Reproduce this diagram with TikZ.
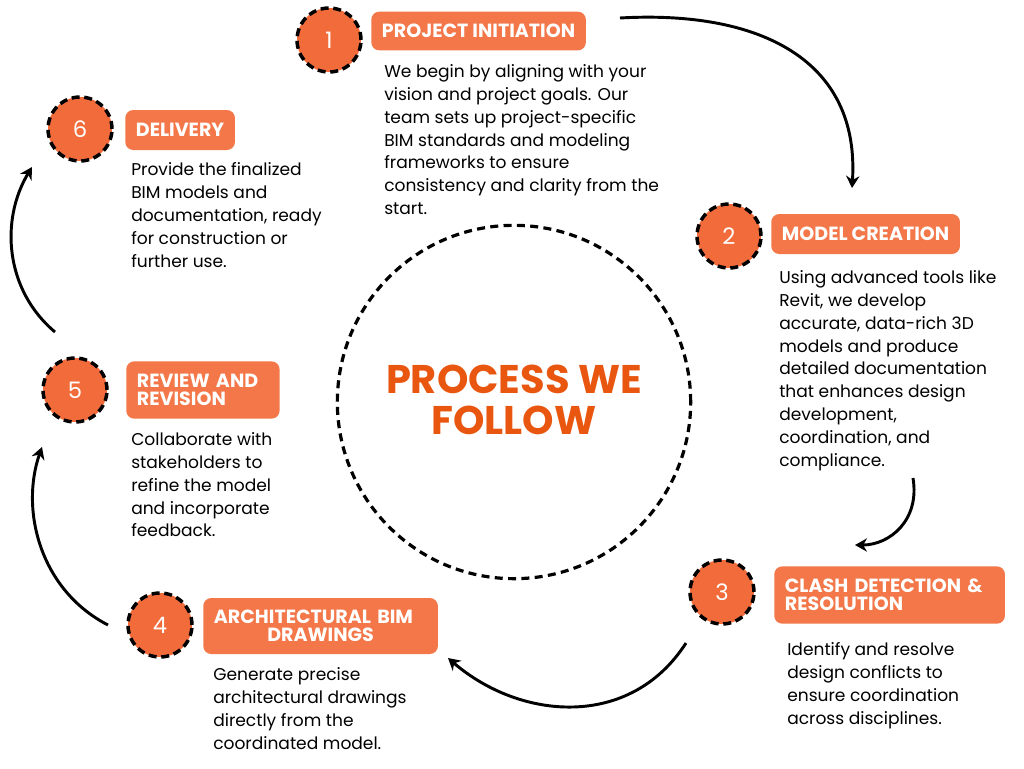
\documentclass[tikz,border=0pt]{standalone}
\usepackage{fontspec}
\setmainfont{Poppins}
\usetikzlibrary{arrows.meta}
\definecolor{org}{HTML}{F37748}
\definecolor{orgc}{HTML}{F26B3A}
\definecolor{ttl}{HTML}{E8560F}
\begin{document}
\begin{tikzpicture}[x=0.75pt,y=-0.75pt,
 num/.style={circle,fill=orgc,draw=black,line width=2.6pt,dash pattern=on 6pt off 3.5pt,minimum size=48pt,inner sep=0pt,text=white,font=\fontsize{17}{17}\selectfont},
 lab/.style={fill=org,rounded corners=6pt,text=white,font=\bfseries\fontsize{14.3}{13.5}\selectfont,align=left,inner xsep=8pt,inner ysep=6pt,anchor=west},
 body/.style={anchor=north west,align=left,font=\fontsize{12.8}{17.2}\selectfont,inner sep=0pt},
 arr/.style={line width=2.2pt,-{Stealth[length=9pt,width=10pt]}}]
\useasboundingbox (0,0) rectangle (1024,768);
\node[circle,draw=black,line width=2.4pt,dash pattern=on 6pt off 4pt,minimum size=265pt] (c) at (514,402) {};
\node[text=ttl,font=\bfseries\fontsize{30}{31}\selectfont,align=center] (ct) at (514,400) {PROCESS WE\\FOLLOW};
% 1
\node[num] (n1) at (329,40) {1};
\node[lab,minimum height=29pt] (l1) at (371,31) {PROJECT INITIATION};
\node[body] (b1) at (384,64) {We begin by aligning with your\\vision and project goals. Our\\team sets up project-specific\\BIM standards and modeling\\frameworks to ensure\\consistency and clarity from the\\start.};
% 2
\node[num] (n2) at (729,236) {2};
\node[lab,minimum height=30pt] (l2) at (771,234) {MODEL CREATION};
\node[body] (b2) at (779,270) {Using advanced tools like\\Revit, we develop\\accurate, data-rich 3D\\models and produce\\detailed documentation\\that enhances design\\development,\\coordination, and\\compliance.};
% 3
\node[num] (n3) at (722,592) {3};
\node[lab,minimum height=43pt,text width=157pt] (l3) at (774,595) {CLASH DETECTION \&\\RESOLUTION};
\node[body] (b3) at (787,642) {Identify and resolve\\design conflicts to\\ensure coordination\\across disciplines.};
% 4
\node[num] (n4) at (160,625) {4};
\node[lab,minimum height=42pt,text width=160pt] (l4) at (203,626) {ARCHITECTURAL BIM\\\hspace*{40pt}DRAWINGS};
\node[body] (b4) at (213,667) {Generate precise\\architectural drawings\\directly from the\\coordinated model.};
% 5
\node[num] (n5) at (75,390) {5};
\node[lab,minimum height=43pt,text width=99pt] (l5) at (126,390) {REVIEW AND\\REVISION};
\node[body] (b5) at (131,432) {Collaborate with\\stakeholders to\\refine the model\\and incorporate\\feedback.};
% 6
\node[num] (n6) at (80,129) {6};
\node[lab,minimum height=30pt] (l6) at (125,130) {DELIVERY};
\node[body] (b6) at (131,162) {Provide the finalized\\BIM models and\\documentation, ready\\for construction or\\further use.};
% arrows
\coordinate (a1s) at (620,18); \coordinate (a1e) at (852,188);
\draw[arr] (a1s) .. controls (760,10) and (860,60) .. (a1e);
\coordinate (a2s) at (913,478); \coordinate (a2e) at (855,545);
\draw[arr] (a2s) .. controls (920,520) and (890,545) .. (a2e);
\coordinate (a3s) at (686,643); \coordinate (a3e) at (448,658);
\draw[arr] (a3s) .. controls (630,730) and (520,720) .. (a3e);
\coordinate (a4s) at (108,625); \coordinate (a4e) at (42,447);
\draw[arr] (a4s) .. controls (40,590) and (20,510) .. (a4e);
\coordinate (a5s) at (55,332); \coordinate (a5e) at (32,167);
\draw[arr] (a5s) .. controls (5,290) and (0,220) .. (a5e);
\end{tikzpicture}
\end{document}
